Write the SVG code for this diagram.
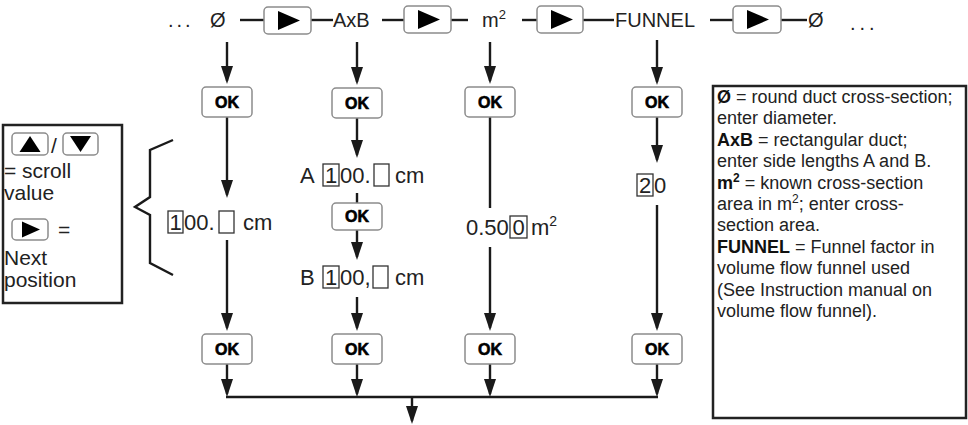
<svg xmlns="http://www.w3.org/2000/svg" width="968" height="425" viewBox="0 0 968 425">
<defs>
<style>
.t{font-family:"Liberation Sans",Arial,sans-serif;fill:#222;}
.top{font-size:20px;}
.col{font-size:22px;}
.leg{font-size:21px;}
.note{font-size:18px;}
.b{font-weight:bold;fill:#111;}
.ln{stroke:#1a1a1a;stroke-width:2.4;fill:none;}
.arr{stroke:#1a1a1a;stroke-width:2.4;fill:none;marker-end:url(#ah);}
.btn{fill:#fff;stroke:#8c8c8c;stroke-width:1.5;}
.ok{font-family:"Liberation Sans",Arial,sans-serif;font-weight:bold;font-size:16px;fill:#000;stroke:#000;stroke-width:0.6;text-anchor:middle;}
.tri{fill:#000;}
.dig{fill:none;stroke:#333;stroke-width:1.3;}
.frame{fill:#fff;stroke:#222;stroke-width:2.5;}
</style>
<marker id="ah" markerUnits="userSpaceOnUse" markerWidth="18" markerHeight="12" refX="15" refY="6" orient="auto" viewBox="0 0 18 12">
<path d="M0,0 L18,6 L0,12 Z" fill="#1a1a1a"/>
</marker>
</defs>

<g id="connectors">
<!-- top row horizontal links -->
<line class="ln" x1="240" y1="20" x2="264" y2="20"/>
<line class="ln" x1="311" y1="20" x2="333" y2="20"/>
<line class="ln" x1="382" y1="20" x2="404" y2="20"/>
<line class="ln" x1="451" y1="20" x2="468" y2="20"/>
<line class="ln" x1="522" y1="20" x2="537" y2="20"/>
<line class="ln" x1="583" y1="20" x2="614" y2="20"/>
<line class="ln" x1="710" y1="20" x2="733" y2="20"/>
<line class="ln" x1="781" y1="20" x2="807" y2="20"/>
<!-- top down arrows -->
<line class="arr" x1="227" y1="42" x2="227" y2="81"/>
<line class="arr" x1="357" y1="42" x2="357" y2="82"/>
<line class="arr" x1="490" y1="42" x2="490" y2="81"/>
<line class="arr" x1="657" y1="40" x2="657" y2="82"/>
<!-- col1 -->
<line class="arr" x1="227" y1="117" x2="227" y2="195"/>
<line class="arr" x1="227" y1="240" x2="227" y2="328"/>
<!-- col2 -->
<line class="arr" x1="357" y1="118" x2="357" y2="155"/>
<line class="ln" x1="357" y1="193" x2="357" y2="203"/>
<line class="arr" x1="357" y1="230" x2="357" y2="257"/>
<line class="arr" x1="357" y1="297" x2="357" y2="328"/>
<!-- col3 -->
<line class="ln" x1="490" y1="117" x2="490" y2="208"/>
<line class="arr" x1="490" y1="247" x2="490" y2="328"/>
<!-- col4 -->
<line class="arr" x1="657" y1="117" x2="657" y2="160"/>
<line class="arr" x1="657" y1="205" x2="657" y2="328"/>
<!-- bottom arrows to bar -->
<line class="arr" x1="227" y1="364" x2="227" y2="394"/>
<line class="arr" x1="357" y1="364" x2="357" y2="394"/>
<line class="arr" x1="490" y1="364" x2="490" y2="394"/>
<line class="arr" x1="657" y1="364" x2="657" y2="394"/>
<line class="ln" x1="226" y1="397" x2="658" y2="397"/>
<line class="arr" x1="412" y1="397" x2="412" y2="421"/>
</g>

<g id="top-row">
<text class="t top" x="168" y="27" letter-spacing="3">...</text>
<text class="t top" x="210" y="27">Ø</text>
<g id="next-btn-1"><rect class="btn" x="264" y="7" width="47" height="27" rx="4"/><polygon class="tri" points="278,11 300,20.5 278,30"/></g>
<text class="t top" x="333" y="27">AxB</text>
<g id="next-btn-2"><rect class="btn" x="404" y="6" width="47" height="27" rx="4"/><polygon class="tri" points="418,10 440,19.5 418,29"/></g>
<text class="t top" x="482" y="27">m<tspan font-size="13" dy="-8">2</tspan></text>
<g id="next-btn-3"><rect class="btn" x="537" y="6" width="46" height="27" rx="4"/><polygon class="tri" points="551,10 573,19.5 551,29"/></g>
<text class="t top" x="615" y="27">FUNNEL</text>
<g id="next-btn-4"><rect class="btn" x="733" y="6" width="48" height="27" rx="4"/><polygon class="tri" points="747,10 769,19.5 747,29"/></g>
<text class="t top" x="808" y="27">Ø</text>
<text class="t top" x="850" y="30" letter-spacing="4">...</text>
</g>

<g id="ok-top-1"><rect class="btn" x="202" y="87" width="50" height="30" rx="4"/><text class="ok" x="227" y="108">OK</text></g>
<g id="ok-top-2"><rect class="btn" x="332" y="88" width="50" height="30" rx="4"/><text class="ok" x="357" y="109">OK</text></g>
<g id="ok-top-3"><rect class="btn" x="465" y="87" width="50" height="30" rx="4"/><text class="ok" x="490" y="108">OK</text></g>
<g id="ok-top-4"><rect class="btn" x="632" y="87" width="50" height="30" rx="4"/><text class="ok" x="657" y="108">OK</text></g>

<g id="value-diameter">
<rect class="dig" x="168" y="211" width="15" height="22"/>
<text class="t col" x="175.5" y="230" text-anchor="middle">1</text>
<text class="t col" x="184" y="230">00.</text>
<rect class="dig" x="219" y="211" width="15" height="22"/>
<text class="t col" x="243" y="230">cm</text>
</g>

<g id="value-a">
<text class="t col" x="300" y="183">A</text>
<rect class="dig" x="323" y="164" width="16" height="22"/>
<text class="t col" x="331" y="183" text-anchor="middle">1</text>
<text class="t col" x="340" y="183">00.</text>
<rect class="dig" x="374" y="164" width="15" height="22"/>
<text class="t col" x="395" y="183">cm</text>
</g>
<g id="ok-mid-2"><rect class="btn" x="332" y="203" width="50" height="27" rx="4"/><text class="ok" x="357" y="222">OK</text></g>
<g id="value-b">
<text class="t col" x="300" y="285">B</text>
<rect class="dig" x="323" y="266" width="16" height="22"/>
<text class="t col" x="331" y="285" text-anchor="middle">1</text>
<text class="t col" x="340" y="285">00,</text>
<rect class="dig" x="373" y="266" width="15" height="22"/>
<text class="t col" x="395" y="285">cm</text>
</g>

<g id="value-area">
<text class="t col" x="466" y="235">0.50</text>
<rect class="dig" x="510" y="216" width="17" height="22"/>
<text class="t col" x="518.5" y="235" text-anchor="middle">0</text>
<text class="t col" x="531" y="235">m<tspan font-size="14" dy="-9">2</tspan></text>
</g>

<g id="value-funnel">
<rect class="dig" x="637" y="174" width="16" height="22"/>
<text class="t col" x="645" y="193" text-anchor="middle">2</text>
<text class="t col" x="654" y="193">0</text>
</g>

<g id="ok-bot-1"><rect class="btn" x="202" y="334" width="50" height="30" rx="4"/><text class="ok" x="227" y="355">OK</text></g>
<g id="ok-bot-2"><rect class="btn" x="332" y="334" width="50" height="30" rx="4"/><text class="ok" x="357" y="355">OK</text></g>
<g id="ok-bot-3"><rect class="btn" x="465" y="334" width="50" height="30" rx="4"/><text class="ok" x="490" y="355">OK</text></g>
<g id="ok-bot-4"><rect class="btn" x="632" y="334" width="50" height="30" rx="4"/><text class="ok" x="657" y="355">OK</text></g>

<g id="legend">
<rect class="frame" x="3" y="125" width="119" height="178"/>
<rect class="btn" x="12" y="133" width="36" height="22" rx="4"/>
<polygon class="tri" points="30,136 40.5,152 19.5,152"/>
<text class="t leg" x="51" y="153" font-size="19">/</text>
<rect class="btn" x="63" y="133" width="35" height="22" rx="4"/>
<polygon class="tri" points="70,136 91,136 80.5,152"/>
<text class="t leg" x="4" y="178">= scroll</text>
<text class="t leg" x="4" y="200">value</text>
<rect class="btn" x="12" y="219" width="36" height="21" rx="4"/>
<polygon class="tri" points="22,221.5 40,229.5 22,237.5"/>
<text class="t leg" x="58" y="237">=</text>
<text class="t leg" x="4" y="265">Next</text>
<text class="t leg" x="4" y="287">position</text>
</g>

<g id="brace">
<path class="ln" d="M173,140 L150,150 L150,197 L135,207 L150,215 L150,263 L173,275"/>
</g>

<g id="notes">
<rect class="frame" x="713" y="86" width="253" height="332"/>
<text class="t note" x="717" y="103"><tspan class="b">Ø</tspan> = round duct cross-section;</text>
<text class="t note" x="717" y="124.4">enter diameter.</text>
<text class="t note" x="717" y="145.8"><tspan class="b">AxB</tspan> = rectangular duct;</text>
<text class="t note" x="717" y="167.2">enter side lengths A and B.</text>
<text class="t note" x="717" y="188.6"><tspan class="b">m</tspan><tspan class="b" font-size="12" dy="-7">2</tspan><tspan dy="7"> = known cross-section</tspan></text>
<text class="t note" x="717" y="210">area in m<tspan font-size="12" dy="-7">2</tspan><tspan dy="7">; enter cross-</tspan></text>
<text class="t note" x="717" y="231.4">section area.</text>
<text class="t note" x="717" y="252.8"><tspan class="b">FUNNEL</tspan> = Funnel factor in</text>
<text class="t note" x="717" y="274.2">volume flow funnel used</text>
<text class="t note" x="717" y="295.6">(See Instruction manual on</text>
<text class="t note" x="717" y="317">volume flow funnel).</text>
</g>
</svg>
